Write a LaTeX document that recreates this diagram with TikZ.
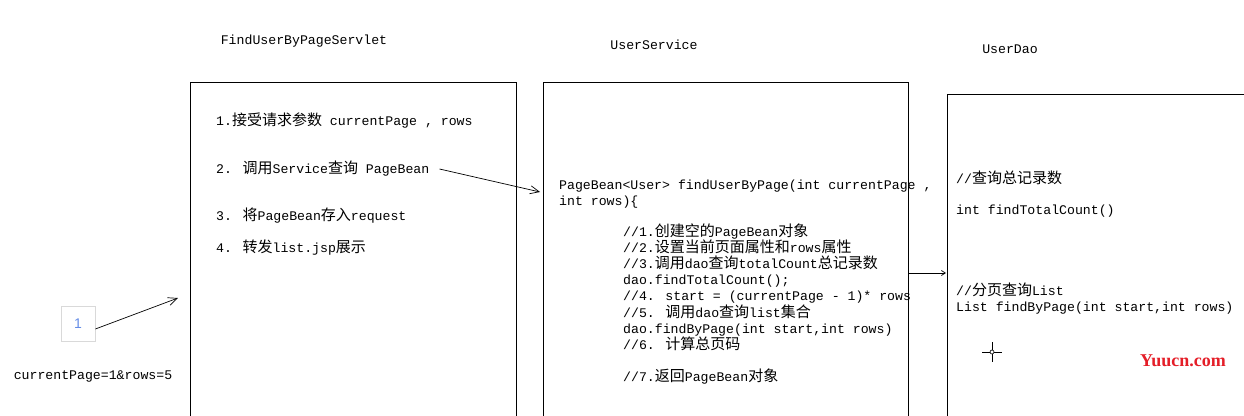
\documentclass[tikz,border=0pt]{standalone}
\usepackage{fontspec}
\setmainfont{Liberation Mono}
\newfontfamily\cjk{Noto Sans CJK SC}
\newfontfamily\wmfont{Liberation Serif}
\newfontfamily\numfont{Liberation Sans}
\usetikzlibrary{arrows.meta,positioning}
\definecolor{pgblue}{RGB}{100,140,230}
\definecolor{wmred}{RGB}{228,30,40}
\newcommand{\zh}[1]{{\cjk\fontsize{15}{16.1}\selectfont #1}}
\tikzset{
  lane/.style={draw=black, line width=0.9pt, anchor=north west,
    minimum height=420pt, inner sep=0pt},
  code/.style={anchor=west, align=left, inner sep=0pt,
    font=\fontsize{13.2}{16.1}\selectfont},
  head/.style={inner sep=0pt, font=\fontsize{13.2}{16.1}\selectfont},
  flow/.style={-{Straight Barb[length=9pt,width=8pt]}, line width=0.7pt},
  sflow/.style={-{Straight Barb[length=4pt,width=5pt]}, line width=0.7pt}
}

\begin{document}
\begin{tikzpicture}[x=1pt, y=-1pt]
  \useasboundingbox (0,0) rectangle (1244,415);
  \clip (0,0) rectangle (1244,415);

  % three columns
  \node[lane, minimum width=326] (servlet) at (190,82) {};
  \node[lane, minimum width=365] (service) at (543,82) {};
  \node[lane, minimum width=400] (dao) at (947,94) {};
  \node[head] (h1) at (304,41) {FindUserByPageServlet};
  \node[head] (h2) at (654,45) {UserService};
  \node[head] (h3) at (1010,49) {UserDao};

  % request
  \node[draw=black!15, line width=0.8pt, minimum width=34, minimum height=35,
    text=pgblue, font=\numfont\fontsize{14}{15}\selectfont] (pg) at (78,324) {1};
  \node[code, anchor=center] (req) at (93,376) {currentPage=1\&rows=5};
  \coordinate (in1) at (178,298);
  \draw[flow] ([yshift=-5pt]pg.east) -- (in1);

  % servlet steps
  \node[code] (s1) at (216,121) {1.\zh{接受请求参数} currentPage , rows};
  \node[code] (s2) at (216,169) {2. \zh{调用}Service\zh{查询} PageBean};
  \node[code] (s3) at (216,216) {3. \zh{将}PageBean\zh{存入}request};
  \node[code] (s4) at (216,248) {4. \zh{转发}list.jsp\zh{展示}};

  % service method
  \node[code] (sig) at (559,194)
    {PageBean<User> findUserByPage(int currentPage ,\\int rows)\{};
  \node[code] (body) at (623,304)
    {//1.\zh{创建空的}PageBean\zh{对象}\\
     //2.\zh{设置当前页面属性和}rows\zh{属性}\\
     //3.\zh{调用}dao\zh{查询}totalCount\zh{总记录数}\\
     dao.findTotalCount();\\
     //4. start = (currentPage - 1)* rows\\
     //5. \zh{调用}dao\zh{查询}list\zh{集合}\\
     dao.findByPage(int start,int rows)\\
     //6. \zh{计算总页码}\\
     \mbox{}\\
     //7.\zh{返回}PageBean\zh{对象}};
  \coordinate (in2) at (540,192);
  \draw[flow] ([xshift=10pt]s2.east) -- (in2);

  % dao methods
  \node[code] (d1) at (956,178) {//\zh{查询总记录数}};
  \node[code] (d2) at (956,211) {int findTotalCount()};
  \node[code] (d3) at (956,299) {//\zh{分页查询}List\\List findByPage(int start,int rows)};
  \coordinate (in3) at (946,273);
  \draw[sflow] (service.east |- in3) -- (in3);

  % cursor mark and watermark
  \draw[line width=0.7pt] (982,352) -- (1002,352) (992,342) -- (992,362);
  \draw[line width=0.6pt, fill=white] (992,352) circle[radius=2];
  \node[inner sep=0pt, text=wmred, font=\wmfont\bfseries\fontsize{18}{20}\selectfont]
    (wm) at (1183,361) {Yuucn.com};
\end{tikzpicture}
\end{document}
